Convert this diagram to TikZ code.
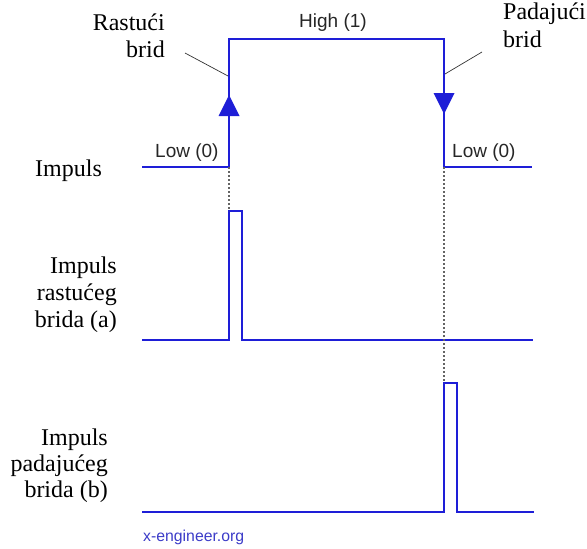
\documentclass[tikz,border=0pt]{standalone}
\usepackage{fontspec}
\setmainfont{Liberation Serif}
\setsansfont{Liberation Sans}
\newfontfamily\serf{Liberation Serif}
\definecolor{sig}{RGB}{30,30,215}
\definecolor{wm}{RGB}{60,60,200}
\definecolor{dotc}{RGB}{100,100,100}
\begin{document}
\begin{tikzpicture}[x=1pt,y=-1pt,
  sigline/.style={draw=sig,line width=1.7pt,line join=miter},
  guide/.style={draw=dotc,line width=1.3pt,dash pattern=on 2pt off 2pt},
  pointer/.style={draw=black!80,line width=0.7pt},
  serlab/.style={inner sep=0pt,font=\serf\fontsize{24}{27}\selectfont,align=right},
  serlabl/.style={inner sep=0pt,font=\serf\fontsize{24}{28}\selectfont,align=left},
  lvl/.style={inner sep=0pt,font=\sffamily\fontsize{19}{22}\selectfont,text=black!85,anchor=base west},
  tip/.style={fill=sig,draw=none}]
\useasboundingbox (0,0) rectangle (587,549);
% main signal coordinates
\coordinate (a0) at (142,167);
\coordinate (a1) at (229,167);
\coordinate (a2) at (229,39);
\coordinate (a3) at (444,39);
\coordinate (a4) at (444,167);
\coordinate (a5) at (532,167);
\draw[sigline] (a0) -- (a1) -- (a2) -- (a3) -- (a4) -- (a5);
% arrowheads on edges
\fill[tip] (229,95) -- (239.5,116) -- (218.5,116) -- cycle;
\fill[tip] (433.5,93) -- (454.5,93) -- (444,114) -- cycle;
% rising edge pulse
\coordinate (b0) at (142,340);
\coordinate (b1) at (229,340);
\coordinate (b2) at (229,211);
\coordinate (b3) at (242,211);
\coordinate (b4) at (242,340);
\coordinate (b5) at (533,340);
\draw[sigline] (b0) -- (b1) -- (b2) -- (b3) -- (b4) -- (b5);
% falling edge pulse
\coordinate (c0) at (142,512);
\coordinate (c1) at (444,512);
\coordinate (c2) at (444,383);
\coordinate (c3) at (457,383);
\coordinate (c4) at (457,512);
\coordinate (c5) at (534,512);
\draw[sigline] (c0) -- (c1) -- (c2) -- (c3) -- (c4) -- (c5);
% guides
\draw[guide] (a1) -- (b2);
\draw[guide] (a4) -- (c2);
% level labels
\node[lvl,anchor=base east] (high) at (367,27) {High (1)};
\node[lvl] (lowl) at (155,157) {Low (0)};
\node[lvl] (lowr) at (452,157) {Low (0)};
% edge labels
\node[serlab,anchor=base east] (rast) at (165,57) {Rastući\\brid};
\node[serlabl,anchor=base west] (pad) at (503,47) {Padajući\\brid};
\coordinate (rp1) at (185,53);
\coordinate (rp2) at (228,76);
\coordinate (pp1) at (482,52);
\coordinate (pp2) at (445,74);
\draw[pointer] (rp1) -- (rp2);
\draw[pointer] (pp1) -- (pp2);
% row labels
\node[serlab,anchor=base west] (imp) at (35,176) {Impuls};
\node[serlab,anchor=base east] (ra) at (117,327) {Impuls\\rastućeg\\brida (a)};
\node[serlab,anchor=base east,font=\serf\fontsize{24}{26}\selectfont] (fb) at (108,497) {Impuls\\padajućeg\\brida (b)};
% watermark
\node[inner sep=0pt,font=\sffamily\fontsize{15.8}{18}\selectfont,text=wm,anchor=base west] (wmk) at (143,541) {x-engineer.org};
\end{tikzpicture}
\end{document}
